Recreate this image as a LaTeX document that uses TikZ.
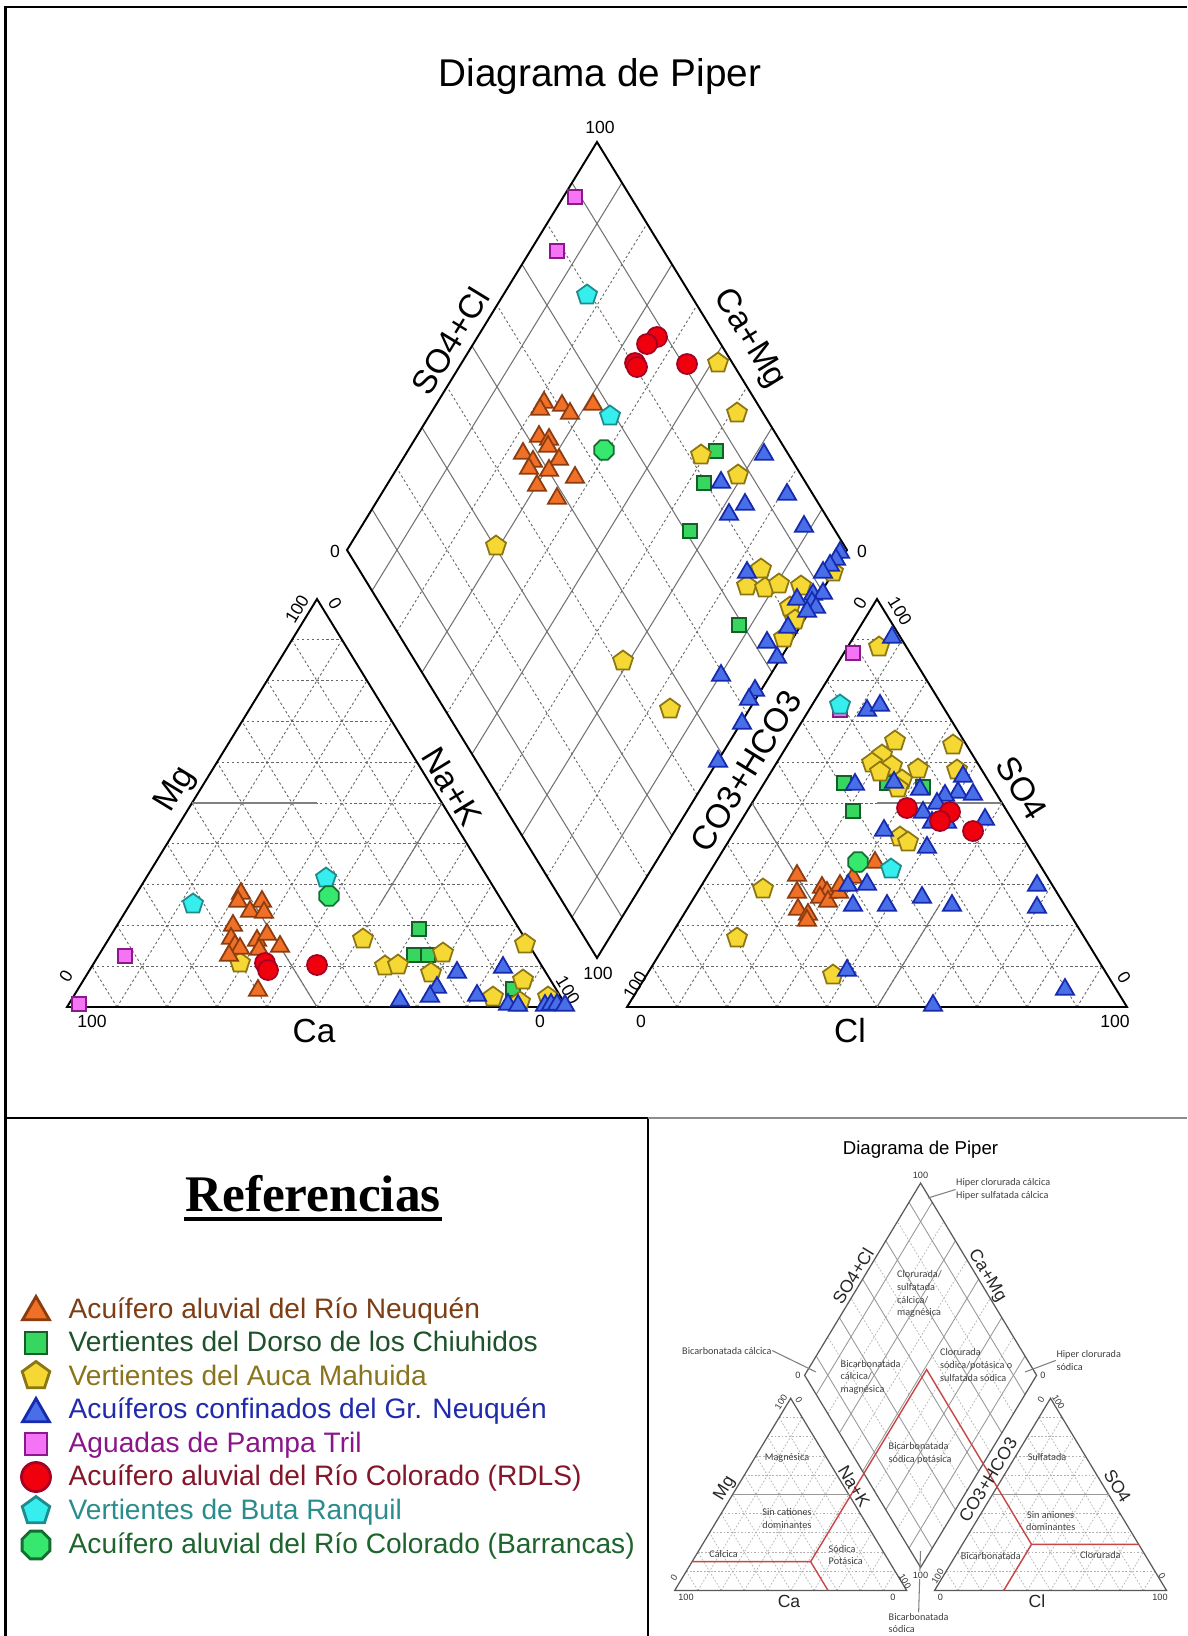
\documentclass[tikz,border=0pt]{standalone}
\usepackage{fontspec}
\setmainfont{Liberation Sans}
\newfontfamily\refsfont{Liberation Serif}
\newfontfamily\zonefont{Carlito}
\usetikzlibrary{calc,shapes.geometric}

\definecolor{neuqfill}{RGB}{240,112,40}
\definecolor{neuqline}{RGB}{140,60,15}
\definecolor{neuqtext}{RGB}{125,62,22}
\definecolor{dorsfill}{RGB}{55,215,95}
\definecolor{dorsline}{RGB}{20,95,40}
\definecolor{dorstext}{RGB}{30,82,42}
\definecolor{aucafill}{RGB}{246,216,52}
\definecolor{aucaline}{RGB}{140,118,20}
\definecolor{aucatext}{RGB}{138,116,30}
\definecolor{conffill}{RGB}{72,110,232}
\definecolor{confline}{RGB}{22,42,175}
\definecolor{conftext}{RGB}{32,42,172}
\definecolor{pampfill}{RGB}{245,115,245}
\definecolor{pampline}{RGB}{140,25,140}
\definecolor{pamptext}{RGB}{138,22,138}
\definecolor{rdlsfill}{RGB}{240,0,12}
\definecolor{rdlsline}{RGB}{165,0,35}
\definecolor{rdlstext}{RGB}{132,22,42}
\definecolor{butafill}{RGB}{55,238,238}
\definecolor{butaline}{RGB}{30,140,140}
\definecolor{butatext}{RGB}{42,140,140}
\definecolor{barrfill}{RGB}{55,232,110}
\definecolor{barrline}{RGB}{20,110,50}
\definecolor{barrtext}{RGB}{30,100,45}
\definecolor{zonered}{RGB}{200,70,70}

\tikzset{
  griddash/.style={black!60, line width=0.25pt, dash pattern=on 0.7pt off 0.7pt},
  gridline/.style={black!55, line width=0.3pt},
  edgeline/.style={black, line width=0.55pt},
  ticklbl/.style={font=\fontsize{5}{6}\selectfont, inner sep=0pt},
  axlbl/.style={font=\fontsize{9.5}{11}\selectfont, inner sep=0pt},
  mk/.style={draw, line width=0.5pt, inner sep=0pt, outer sep=0pt},
  tri/.style={mk, regular polygon, regular polygon sides=3, minimum size=2.1mm, yshift=-0.25mm},
  pent/.style={mk, regular polygon, regular polygon sides=5, minimum size=2.1mm},
  sq/.style={mk, rectangle, minimum size=1.4mm},
  disc/.style={mk, circle, minimum size=2mm},
  oct/.style={mk, regular polygon, regular polygon sides=8, minimum size=2.1mm},
  neuq/.style={tri, fill=neuqfill, draw=neuqline},
  dors/.style={sq, fill=dorsfill, draw=dorsline},
  auca/.style={pent, fill=aucafill, draw=aucaline},
  conf/.style={tri, fill=conffill, draw=confline},
  pamp/.style={sq, fill=pampfill, draw=pampline},
  rdls/.style={disc, fill=rdlsfill, draw=rdlsline},
  buta/.style={pent, fill=butafill, draw=butaline},
  barr/.style={oct, fill=barrfill, draw=barrline},
  legbig/.style={minimum size=#1, line width=0.8pt},
  legtxt/.style={font=\fontsize{8}{9}\selectfont, anchor=base west, inner sep=0pt},
  zone/.style={font=\zonefont\fontsize{2.9}{3.6}\selectfont, inner sep=0pt, text=black!75},
  zonetick/.style={font=\fontsize{2.6}{3}\selectfont, inner sep=0pt, text=black!80},
  zoneax/.style={font=\fontsize{5}{6}\selectfont, inner sep=0pt, text=black!85},
  leader/.style={black!50, line width=0.3pt}
}

% triangles and diamond, coordinates in pixels of the main plot
\newcommand\pipergrid[1]{%
  \coordinate (#1lA) at (67,1007); \coordinate (#1lB) at (567,1007); \coordinate (#1lC) at (317,599);
  \coordinate (#1rA) at (627,1007); \coordinate (#1rB) at (1127,1007); \coordinate (#1rC) at (877,599);
  \coordinate (#1T) at (597,142); \coordinate (#1L) at (347,550);
  \coordinate (#1R) at (847,550); \coordinate (#1B) at (597,958);
  \foreach \fr in {0.1,0.2,0.3,0.4,0.5,0.6,0.7,0.8,0.9} {
    \draw[griddash] ($(#1lA)!\fr!(#1lC)$) -- ($(#1lB)!\fr!(#1lC)$);
    \draw[griddash] ($(#1lA)!\fr!(#1lB)$) -- ($(#1lC)!\fr!(#1lB)$);
    \draw[griddash] ($(#1lB)!\fr!(#1lA)$) -- ($(#1lC)!\fr!(#1lA)$);
    \draw[griddash] ($(#1rA)!\fr!(#1rC)$) -- ($(#1rB)!\fr!(#1rC)$);
    \draw[griddash] ($(#1rA)!\fr!(#1rB)$) -- ($(#1rC)!\fr!(#1rB)$);
    \draw[griddash] ($(#1rB)!\fr!(#1rA)$) -- ($(#1rC)!\fr!(#1rA)$);
  }
  \foreach \fr in {0.2,0.4,0.6,0.8} {
    \draw[griddash] ($(#1L)!\fr!(#1B)$) -- ($(#1T)!\fr!(#1R)$);
    \draw[griddash] ($(#1R)!\fr!(#1B)$) -- ($(#1T)!\fr!(#1L)$);
  }
  \foreach \fr in {0.1,0.3,0.5,0.7,0.9} {
    \draw[gridline] ($(#1L)!\fr!(#1B)$) -- ($(#1T)!\fr!(#1R)$);
    \draw[gridline] ($(#1R)!\fr!(#1B)$) -- ($(#1T)!\fr!(#1L)$);
  }
  \draw[edgeline] (#1lA) -- (#1lB) -- (#1lC) -- cycle;
  \draw[edgeline] (#1rA) -- (#1rB) -- (#1rC) -- cycle;
  \draw[edgeline] (#1T) -- (#1L) -- (#1B) -- (#1R) -- cycle;
}

\begin{document}
\begin{tikzpicture}[x=0.01cm,y=-0.01cm]
\useasboundingbox (0,0) rectangle (1187,1636);
\fill[white] (0,0) rectangle (1187,1636);

% panels
\draw[line width=0.6pt] (5.5,1636) -- (5.5,7) -- (1187,7);
\draw[line width=0.8pt] (5.5,1118) -- (648,1118) -- (648,1636);
\draw[black!45, line width=0.8pt] (648,1118) -- (1187,1118);

\node[font=\fontsize{11}{13}\selectfont, anchor=base] (title) at (600,86) {Diagrama de Piper};

% main plot
\pipergrid{m}
\draw[black!50, line width=0.5pt] (192,803) -- (317,803);
\draw[gridline] (317,1007) -- (254.5,905);
\draw[gridline] (442,803) -- (379.5,905);
\draw[black!50, line width=0.5pt] (877,803) -- (1002,803);
\draw[gridline] (752,803) -- (814.5,905);
\draw[gridline] (877,1007) -- (939.5,905);

\node[ticklbl] (tT) at (600,127) {100};
\node[ticklbl] (tL) at (335,551) {0};
\node[ticklbl] (tR) at (862,551) {0};
\node[ticklbl] (tB) at (598,973) {100};
\node[ticklbl, rotate=58.5] (tl1) at (297,609) {100};
\node[ticklbl, rotate=-58.5] (tl2) at (335,603) {0};
\node[ticklbl, rotate=58.5] (tl3) at (66,976) {0};
\node[ticklbl] (tl4) at (92,1021) {100};
\node[ticklbl] (tl5) at (540,1021) {0};
\node[ticklbl, rotate=-58.5] (tl6) at (568,990) {100};
\node[ticklbl, rotate=58.5] (tr1) at (860,603) {0};
\node[ticklbl, rotate=-58.5] (tr2) at (900,611) {100};
\node[ticklbl, rotate=58.5] (tr3) at (635,985) {100};
\node[ticklbl] (tr4) at (641,1021) {0};
\node[ticklbl] (tr5) at (1115,1021) {100};
\node[ticklbl, rotate=-58.5] (tr6) at (1124,977) {0};

\node[axlbl, rotate=58.5] (aSC) at (450,341) {SO4+Cl};
\node[axlbl, rotate=-58.5] (aCM) at (749,339) {Ca+Mg};
\node[axlbl, rotate=58.5] (aMg) at (176,790) {Mg};
\node[axlbl, rotate=-58.5] (aNK) at (452,787) {Na+K};
\node[axlbl] (aCa) at (314,1031) {Ca};
\node[axlbl, rotate=58.5] (aCH) at (746,771) {CO3+HCO3};
\node[axlbl, rotate=-58.5] (aSO) at (1022,788) {SO4};
\node[axlbl] (aCl) at (850,1031) {Cl};

% samples
\foreach \x/\y [count=\i] in {575/197, 557/251, 125/956, 79/1004, 853/653, 840/710}
  \node[pamp] (pamp\i) at (\x,\y) {};
\foreach \x/\y [count=\i] in {716/451, 704/483, 690/531, 739/625, 419/929, 414/955, 428/955, 513/989,
    844/783, 887/783, 923/787, 853/811}
  \node[dors] (dors\i) at (\x,\y) {};
\foreach \x/\y [count=\i] in {718/363, 737/413, 701/455, 738/475, 496/546, 833/572, 761/569, 747/586,
    765/588, 779/584, 801/586, 790/607, 795/620, 784/638, 623/661, 670/709,
    240/963, 363/939, 385/966, 398/965, 443/953, 431/973, 525/944, 523/980, 493/997, 520/1002, 548/997,
    879/647, 895/741, 953/745, 882/755, 872/763, 892/766, 918/769, 957/770, 880/772, 902/780, 898/788,
    900/837, 908/842, 763/889, 737/938, 833/975}
  \node[auca] (auca\i) at (\x,\y) {};
\foreach \x/\y [count=\i] in {544/400, 540/407, 562/403, 570/411, 593/402, 539/434, 549/437, 548/444,
    523/451, 533/459, 529/466, 559/457, 549/468, 575/475, 537/483, 557/496,
    241/891, 238/899, 262/899, 250/909, 264/910, 233/923, 231/936, 235/943, 240/946, 257/938, 267/932,
    280/944, 259/947, 229/953, 258/988,
    797/873, 797/890, 822/885, 827/890, 820/895, 828/899, 839/890, 840/883, 798/907, 808/912, 807/918,
    853/875, 875/860}
  \node[neuq] (neuq\i) at (\x,\y) {};
\foreach \x/\y [count=\i] in {764/452, 721/480, 745/502, 729/512, 787/492, 804/524, 840/550, 836/557,
    830/563, 823/570, 747/570, 813/592, 823/591, 797/597, 812/600, 816/605, 807/609, 788/625, 767/640,
    777/655, 721/673, 755/688, 749/697, 742/721, 718/759,
    457/970, 437/985, 430/994, 400/998, 477/993, 503/965, 508/1002, 518/1003, 545/1003, 551/1002,
    557/1002, 565/1003,
    892/635, 867/708, 880/703, 855/782, 894/780, 920/787, 963/774, 958/790, 973/792, 945/793, 937/801,
    923/810, 932/820, 947/820, 985/817, 884/828, 927/845, 848/883, 867/882, 853/903, 887/903, 922/895,
    952/903, 1037/883, 1037/905, 847/968, 933/1003, 1065/987}
  \node[conf] (conf\i) at (\x,\y) {};
\foreach \x/\y [count=\i] in {657/337, 647/344, 635/363, 637/367, 687/364, 265/963, 268/970, 317/965,
    907/808, 950/812, 940/821, 973/831}
  \node[rdls] (rdls\i) at (\x,\y) {};
\foreach \x/\y [count=\i] in {587/295, 610/416, 193/904, 326/878, 840/705, 891/869}
  \node[buta] (buta\i) at (\x,\y) {};
\foreach \x/\y [count=\i] in {604/450, 329/896, 858/862}
  \node[barr] (barr\i) at (\x,\y) {};

% legend
\node[font=\refsfont\bfseries\fontsize{14.6}{16}\selectfont, anchor=base, inner sep=0pt] (refs) at (313,1211) {Referencias};
\draw[line width=0.9pt] ($(refs.base west)+(0,8)$) -- ($(refs.base east)+(0,8)$);

\node[neuq, legbig=3.1mm, yshift=-0.15mm] (k1) at (36,1308) {};
\node[dors, legbig=2.2mm] (k2) at (36,1343) {};
\node[auca, legbig=2.9mm] (k3) at (36,1376) {};
\node[conf, legbig=3.1mm, yshift=-0.15mm] (k4) at (36,1410) {};
\node[pamp, legbig=2.2mm] (k5) at (36,1444) {};
\node[rdls, legbig=2.9mm] (k6) at (36,1477) {};
\node[buta, legbig=2.9mm] (k7) at (36,1511) {};
\node[barr, legbig=3.0mm] (k8) at (36,1545) {};
\node[legtxt, text=neuqtext] (e1) at (68,1318) {Acuífero aluvial del Río Neuquén};
\node[legtxt, text=dorstext] (e2) at (68,1351.6) {Vertientes del Dorso de los Chiuhidos};
\node[legtxt, text=aucatext] (e3) at (68,1385.2) {Vertientes del Auca Mahuida};
\node[legtxt, text=conftext] (e4) at (68,1418.7) {Acuíferos confinados del Gr. Neuquén};
\node[legtxt, text=pamptext] (e5) at (68,1452.3) {Aguadas de Pampa Tril};
\node[legtxt, text=rdlstext] (e6) at (68,1485.8) {Acuífero aluvial del Río Colorado (RDLS)};
\node[legtxt, text=butatext] (e7) at (68,1519.4) {Vertientes de Buta Ranquil};
\node[legtxt, text=barrtext] (e8) at (68,1553) {Acuífero aluvial del Río Colorado (Barrancas)};

% small classification diagram
\begin{scope}[shift={(643.6,1116.2)}, xscale=0.464, yscale=0.471,
  griddash/.style={black!30, line width=0.2pt, dash pattern=on 0.5pt off 0.5pt},
  gridline/.style={black!40, line width=0.25pt},
  edgeline/.style={black!65, line width=0.35pt}]
\pipergrid{i}
\draw[gridline] ($(ilA)!0.5!(ilC)$) -- ($(ilB)!0.5!(ilC)$);
\draw[gridline] ($(irA)!0.5!(irC)$) -- ($(irB)!0.5!(irC)$);
\coordinate (zA) at (104.5,945.8);
\coordinate (zP) at (360,945.8);
\coordinate (zQ) at (397.5,1007);
\coordinate (zM) at (610,538);
\coordinate (zN) at (836,909);
\coordinate (zS) at (1067,909);
\coordinate (zU) at (776,1007);
\draw[zonered, line width=0.4pt] (zA) -- (zP) -- (zQ);
\draw[zonered, line width=0.4pt] (zP) -- (zM) -- (zN) -- (zS);
\draw[zonered, line width=0.4pt] (zN) -- (zU);
\end{scope}

\node[font=\fontsize{5.3}{6}\selectfont, inner sep=0pt] (ititle) at (920.5,1150) {Diagrama de Piper};

\node[zone, anchor=west, align=left] (hcc) at (955.5,1189.5) {Hiper clorurada cálcica\\Hiper sulfatada cálcica};
\node[zone, anchor=west, align=left] (clsu) at (896.5,1294) {Clorurada/\\sulfatada\\cálcica/\\magnésica};
\node[zone, anchor=west] (bcc) at (681.5,1350.6) {Bicarbonatada cálcica};
\node[zone, anchor=west, align=left] (bccm) at (840,1377) {Bicarbonatada\\cálcica/\\magnésica};
\node[zone, anchor=west, align=left] (clso) at (939.4,1365) {Clorurada\\sódica/potásica o\\sulfatada sódica};
\node[zone, anchor=west, align=left] (hcs) at (1055.8,1360.4) {Hiper clorurada\\sódica};
\node[zone] (magn) at (787,1458.3) {Magnésica};
\node[zone, anchor=west, align=left] (bcsp) at (888,1453.5) {Bicarbonatada\\sódica potásica};
\node[zone] (sulf) at (1047,1456.6) {Sulfatada};
\node[zone, align=center] (scd) at (787,1518.4) {Sin cationes\\dominantes};
\node[zone, align=center] (sad) at (1050.7,1521) {Sin aniones\\dominantes};
\node[zone] (calc) at (723.6,1554) {Cálcica};
\node[zone, anchor=west, align=left] (sodp) at (828,1555) {Sódica\\Potásica};
\node[zone] (bica) at (990.8,1556.3) {Bicarbonatada};
\node[zone] (clor) at (1100.3,1555.3) {Clorurada};
\node[zone, anchor=west, align=left] (bcs) at (888,1623) {Bicarbonatada\\sódica};

\coordinate (hccEnd) at (928,1198);
\coordinate (bccEnd) at (816,1372);
\coordinate (hcsEnd) at (1025,1372);
\coordinate (bcsTop) at (920.5,1551);
\draw[leader] (hcc.west) -- (hccEnd);
\draw[leader] (bcc.east) -- (bccEnd);
\draw[leader] (hcs.west) -- (hcsEnd);
\draw[leader] (bcs.north) -- (bcsTop);

\node[zonetick] (it1) at (920.5,1175.5) {100};
\node[zonetick] (it2) at (798,1375) {0};
\node[zonetick] (it3) at (1043,1375) {0};
\node[zonetick, fill=white, inner sep=0.3pt] (it4) at (920.5,1575) {100};
\node[zonetick, rotate=58.5] (it5) at (781,1402) {100};
\node[zonetick, rotate=-58.5] (it6) at (799,1400) {0};
\node[zonetick, rotate=58.5] (it7) at (674,1577.5) {0};
\node[zonetick] (it8) at (686,1597) {100};
\node[zonetick] (it9) at (893,1597) {0};
\node[zonetick, rotate=-58.5] (it10) at (905,1581.5) {100};
\node[zonetick, rotate=58.5] (it11) at (1041,1400) {0};
\node[zonetick, rotate=-58.5] (it12) at (1058.5,1402) {100};
\node[zonetick, rotate=58.5] (it13) at (937.7,1576.4) {100};
\node[zonetick] (it14) at (940.4,1597) {0};
\node[zonetick] (it15) at (1160,1597) {100};
\node[zonetick, rotate=-58.5] (it16) at (1162,1576.4) {0};

\node[zoneax, rotate=58.5] (iSC) at (853,1276) {SO4+Cl};
\node[zoneax, rotate=-58.5] (iCM) at (987,1276) {Ca+Mg};
\node[zoneax, rotate=58.5] (iMg) at (725,1488.5) {Mg};
\node[zoneax, rotate=-58.5] (iNK) at (854,1486) {Na+K};
\node[zoneax, rotate=58.5] (iCH) at (988,1480) {CO3+HCO3};
\node[zoneax, rotate=-58.5] (iSO) at (1117.5,1486) {SO4};
\node[zoneax] (iCa) at (789,1601.6) {Ca};
\node[zoneax] (iCl) at (1037,1601.6) {Cl};
\end{tikzpicture}
\end{document}
